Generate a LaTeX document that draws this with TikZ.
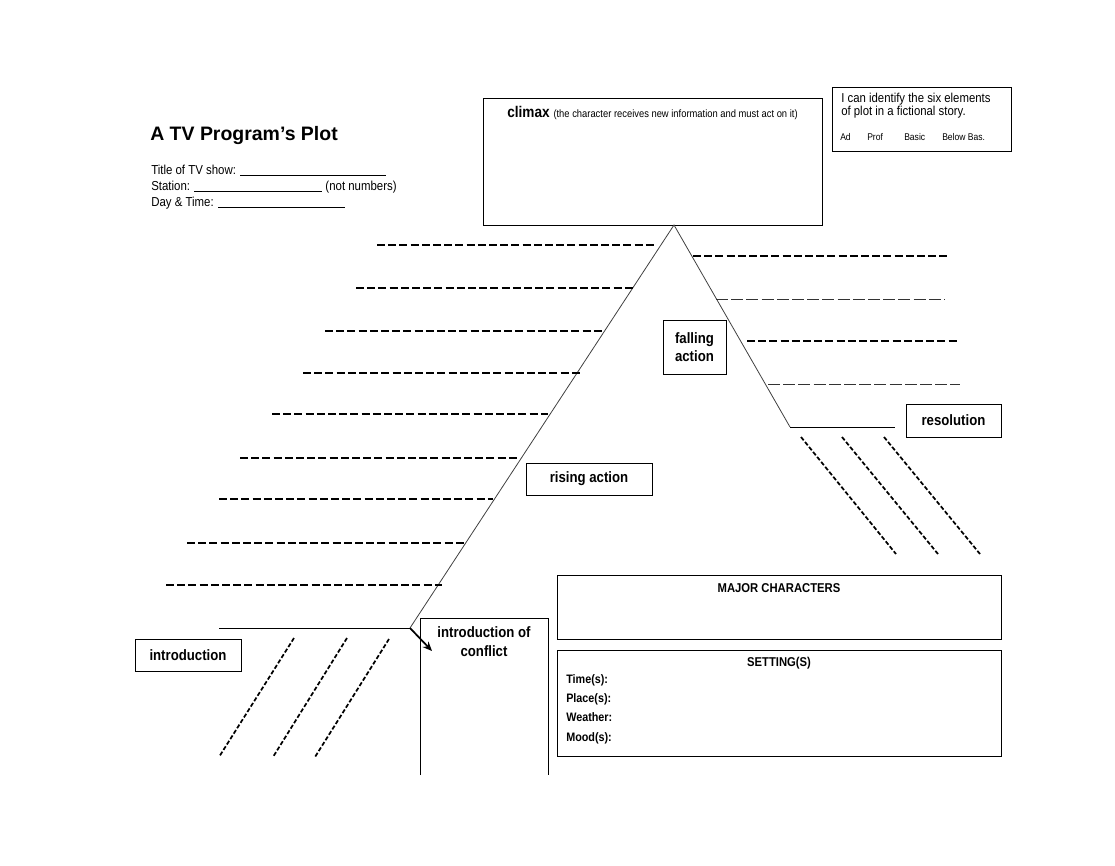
\documentclass[tikz,border=0pt]{standalone}
\usepackage{fontspec}
\setmainfont[FakeStretch=0.88]{Liberation Sans}
\newfontfamily\titlefont{Liberation Sans}
\usetikzlibrary{arrows.meta}
\begin{document}
\begin{tikzpicture}[x=0.75pt,y=-0.75pt,
  box/.style={draw=black,line width=0.75pt,inner sep=0pt},
  lbl/.style={font=\bfseries\fontsize{11.25pt}{13.5pt}\selectfont,align=center,inner sep=0pt},
  txt/.style={font=\fontsize{9.75pt}{12pt}\selectfont,inner sep=0pt,anchor=base west},
  slope/.style={draw=black!75,line width=0.6pt},
  base/.style={draw=black,line width=0.7pt},
  thickdash/.style={draw=black,line width=1.1pt,dash pattern=on 6pt off 2.4pt},
  thindash/.style={draw=black!80,line width=0.55pt,dash pattern=on 9pt off 2.4pt},
  diagdash/.style={draw=black,line width=1.3pt,dash pattern=on 3.2pt off 1.6pt}]
\useasboundingbox (0,0) rectangle (1115,865);

% header
\node[inner sep=0pt,anchor=base west,font=\titlefont\bfseries\fontsize{14.6pt}{17pt}\selectfont] (title) at (150,140) {A TV Program’s Plot};
\node[txt] (showline) at (151,174) {Title of TV show: \rule[-1.6pt]{109.5pt}{0.5pt}};
\node[txt] (stationline) at (151,190) {Station: \rule[-1.6pt]{96pt}{0.5pt} (not numbers)};
\node[txt] (dayline) at (151,206) {Day \& Time: \rule[-1.6pt]{95.25pt}{0.5pt}};

% climax box
\node[box,minimum width=254.25pt,minimum height=95.25pt] (climax) at (652.5,161.5) {};
\node[inner sep=0pt] (climaxtxt) at (652.5,113) {\bfseries\fontsize{11.6pt}{13pt}\selectfont climax \mdseries\fontsize{8pt}{9pt}\selectfont(the character receives new information and must act on it)};

% self-assessment box
\node[box,minimum width=134.25pt,minimum height=48pt] (self) at (921.5,119) {};
\node[inner sep=0pt,anchor=north west,align=left,font=\fontsize{9.7pt}{9.8pt}\selectfont] (selftxt) at (841,93) {I can identify the six elements\\of plot in a fictional story.};
\node[inner sep=0pt,anchor=base west,font=\fontsize{7.3pt}{8pt}\selectfont] (ad) at (840,140) {Ad};
\node[inner sep=0pt,anchor=base west,font=\fontsize{7.3pt}{8pt}\selectfont] (prof) at (867,140) {Prof};
\node[inner sep=0pt,anchor=base west,font=\fontsize{7.3pt}{8pt}\selectfont] (basic) at (904,140) {Basic};
\node[inner sep=0pt,anchor=base west,font=\fontsize{7.3pt}{8pt}\selectfont] (below) at (942,140) {Below Bas.};

% plot line
\coordinate (apex) at (674,225);
\coordinate (lfoot) at (410,628);
\coordinate (lend) at (219,628);
\coordinate (rfoot) at (790,427);
\coordinate (rend) at (895,427);
\draw[slope] (lfoot) -- (apex) -- (rfoot);
\draw[base] (lend) -- (lfoot);
\draw[base] (rfoot) -- (rend);
\coordinate (arrowend) at (432,651);
\draw[draw=black,line width=1.3pt,-{Stealth[length=7pt,width=6pt]}] (lfoot) -- (arrowend);

% left writing lines
\foreach \y/\a/\b in {245/377/655,288/356/633,331/325/603,373/303/580,414/272/548,458/240/517,499/219/493,543/187/465,585/166/442}
  \draw[thickdash] (\a,\y) -- (\b,\y);
% right writing lines
\draw[thickdash] (693,256) -- (948,256);
\draw[thindash] (716,299) -- (945,299);
\draw[thickdash] (747,341) -- (957,341);
\draw[thindash] (768,384) -- (960,384);

% diagonal lines under introduction
\draw[diagdash] (294,638) -- (219,757);
\draw[diagdash] (347,638) -- (273,757);
\draw[diagdash] (389,639) -- (315,757);
% diagonal lines under resolution
\draw[diagdash] (801,437) -- (896,554);
\draw[diagdash] (842,437) -- (938,554);
\draw[diagdash] (884,437) -- (980,554);

% labelled boxes
\node[box,lbl,minimum width=47.25pt,minimum height=40.5pt] (falling) at (694.5,347) {falling\\action};
\node[box,lbl,minimum width=94.5pt,minimum height=24pt] (rising) at (589,479) {rising action};
\node[box,lbl,minimum width=71.25pt,minimum height=24.75pt] (resolution) at (953.5,420.5) {resolution};
\node[box,lbl,minimum width=79.5pt,minimum height=24pt] (intro) at (188,655) {introduction};

% introduction of conflict (open bottom)
\draw[draw=black,line width=0.75pt] (420,775) -- (420,618) -- (548,618) -- (548,775);
\node[lbl,font=\bfseries\fontsize{11.25pt}{14.2pt}\selectfont] (conflict) at (484,642) {introduction of\\conflict};

% characters and setting
\node[box,minimum width=333pt,minimum height=48pt] (major) at (779,607) {};
\node[inner sep=0pt,font=\bfseries\fontsize{9.6pt}{11pt}\selectfont] (majortxt) at (779,588) {MAJOR CHARACTERS};
\node[box,minimum width=333pt,minimum height=79.5pt] (setting) at (779,703) {};
\node[inner sep=0pt,font=\bfseries\fontsize{9.6pt}{11pt}\selectfont] (settingtxt) at (779,663) {SETTING(S)};
\foreach \y/\t/\n in {683/Time(s):/tm,702/Place(s):/pl,721/Weather:/we,741/Mood(s):/mo}
  \node[inner sep=0pt,anchor=base west,font=\bfseries\fontsize{9.2pt}{11pt}\selectfont] (\n) at (566,\y) {\t};
\end{tikzpicture}
\end{document}
